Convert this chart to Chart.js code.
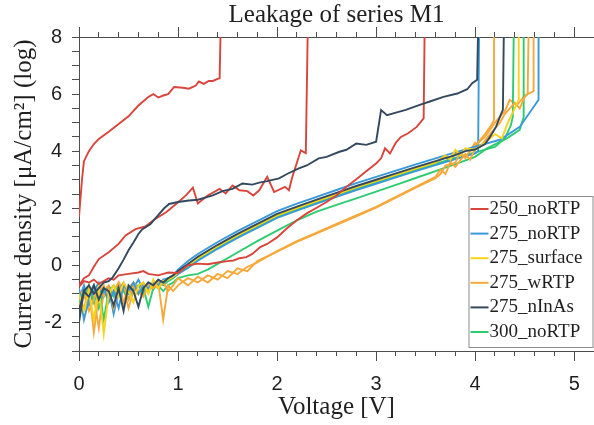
<!DOCTYPE html>
<html>
<head>
<meta charset="utf-8">
<script src="https://cdn.jsdelivr.net/npm/chart.js@4/dist/chart.umd.min.js"></script>
<style>
  html, body { margin: 0; padding: 0; background: #fff; }
</style>
</head>
<body>
<canvas id="leakChart" width="594" height="425"></canvas>
<script>
// series in legend order
const seriesNames = ["250_noRTP", "275_noRTP", "275_surface", "275_wRTP", "275_nInAs", "300_noRTP"];
const seriesColors = ["#d9453b", "#3a9ad9", "#f7d31a", "#f6a93b", "#34495e", "#2ecc71"];

// low-voltage grid shared by the noisy devices
const vLow = [0, 0.05, 0.1, 0.15, 0.2, 0.25, 0.3, 0.35, 0.4, 0.45, 0.5, 0.55, 0.6, 0.65, 0.7, 0.75, 0.8, 0.85, 0.9, 0.95];

// 250_noRTP (three devices)
const red250a = [[0, 1.7], [0.03, 3.0], [0.05, 3.65], [0.1, 4.0], [0.15, 4.25], [0.2, 4.43], [0.3, 4.68], [0.4, 4.95], [0.5, 5.22], [0.6, 5.6], [0.7, 5.9], [0.75, 6.0], [0.8, 5.88], [0.85, 5.95], [0.9, 6.0], [0.96, 6.25], [1.05, 6.22], [1.11, 6.19], [1.18, 6.3], [1.21, 6.44], [1.26, 6.36], [1.31, 6.46], [1.35, 6.46], [1.4, 6.53], [1.42, 6.55], [1.43, 8.3]];
const red250b = [[0, -0.7], [0.05, -0.45], [0.1, -0.35], [0.15, -0.05], [0.2, 0.22], [0.3, 0.46], [0.4, 0.75], [0.47, 1.05], [0.57, 1.27], [0.67, 1.36], [0.77, 1.63], [0.88, 1.86], [0.98, 2.15], [1.08, 2.45], [1.15, 2.72], [1.2, 2.17], [1.3, 2.45], [1.42, 2.68], [1.48, 2.52], [1.55, 2.8], [1.62, 2.63], [1.7, 2.6], [1.76, 2.45], [1.82, 2.63], [1.9, 3.1], [1.97, 2.57], [2.08, 2.75], [2.12, 2.63], [2.15, 3.05], [2.24, 4.03], [2.29, 3.93], [2.31, 8.3]];
const red250c = [[0, -0.75], [0.05, -0.55], [0.1, -0.6], [0.15, -0.5], [0.2, -0.65], [0.25, -0.55], [0.3, -0.45], [0.35, -0.5], [0.4, -0.35], [0.5, -0.3], [0.6, -0.25], [0.65, -0.2], [0.7, -0.3], [0.8, -0.35], [0.9, -0.25], [1.0, -0.27], [1.1, 0.0], [1.2, 0.06], [1.3, 0.04], [1.4, 0.1], [1.5, 0.15], [1.56, 0.17], [1.62, 0.25], [1.69, 0.29], [1.75, 0.4], [1.83, 0.64], [1.9, 0.75], [2.0, 0.98], [2.1, 1.3], [2.2, 1.58], [2.3, 1.82], [2.4, 2.02], [2.5, 2.22], [2.6, 2.45], [2.7, 2.75], [2.8, 3.02], [2.9, 3.3], [3.0, 3.57], [3.05, 3.75], [3.09, 4.1], [3.14, 3.92], [3.2, 4.3], [3.25, 4.5], [3.32, 4.62], [3.41, 4.85], [3.48, 5.15], [3.49, 8.3]];

// 275_nInAs
const darkA = [[0, -1.6], [0.05, -0.9], [0.1, -0.7], [0.15, -1.0], [0.2, -0.8], [0.25, -0.6], [0.3, -0.55], [0.34, -0.42], [0.4, -0.1], [0.45, 0.2], [0.5, 0.53], [0.55, 0.8], [0.6, 1.1], [0.64, 1.27], [0.72, 1.44], [0.81, 1.8], [0.86, 2.0], [0.91, 2.15], [1.0, 2.22], [1.11, 2.27], [1.2, 2.3], [1.35, 2.45], [1.45, 2.6], [1.55, 2.68], [1.65, 2.87], [1.75, 2.83], [1.82, 2.9], [1.9, 2.95], [2.02, 3.05], [2.1, 3.2], [2.22, 3.4], [2.3, 3.5], [2.42, 3.75], [2.5, 3.8], [2.63, 3.98], [2.7, 4.05], [2.8, 4.27], [2.9, 4.22], [3.0, 4.33], [3.05, 5.44], [3.11, 5.26], [3.2, 5.35], [3.3, 5.45], [3.44, 5.62], [3.55, 5.75], [3.68, 5.9], [3.82, 6.02], [3.92, 6.17], [3.97, 6.38], [4.02, 6.5], [4.03, 8.3]];
const darkBLow = [-2.0, -0.9, -1.1, -0.7, -1.2, -0.8, -0.9, -1.4, -0.8, -1.6, -0.7, -0.9, -1.45, -0.8, -0.6, -0.7, -0.5, -0.6, -0.45, -0.35];
const darkBHigh = [[1.0, -0.2], [1.1, 0.05], [1.2, 0.3], [1.4, 0.72], [1.6, 1.1], [1.8, 1.45], [2.0, 1.8], [2.2, 2.06], [2.4, 2.3], [2.6, 2.54], [2.8, 2.78], [3.0, 3.0], [3.2, 3.22], [3.4, 3.44], [3.6, 3.65], [3.8, 3.86], [3.9, 4.0], [4.0, 4.06], [4.1, 4.25], [4.15, 4.5], [4.21, 4.85], [4.25, 5.2], [4.28, 5.45], [4.29, 8.3]];

// 275_noRTP
const blueALow = [-0.8, -1.9, -1.2, -0.7, -1.0, -0.8, -1.3, -0.9, -1.5, -0.7, -0.9, -0.6, -1.0, -0.7, -0.8, -0.6, -0.7, -0.5, -0.45, -0.35];
const blueAHigh = [[1.0, -0.15], [1.1, 0.15], [1.2, 0.4], [1.4, 0.82], [1.6, 1.2], [1.8, 1.55], [2.0, 1.9], [2.2, 2.16], [2.4, 2.4], [2.6, 2.64], [2.8, 2.88], [3.0, 3.1], [3.2, 3.32], [3.4, 3.54], [3.6, 3.75], [3.8, 3.96], [4.0, 4.16], [4.25, 4.4], [4.45, 4.85], [4.59, 5.55], [4.64, 5.8], [4.64, 8.3]];
const blueBLow = [-1.2, -0.7, -1.4, -0.9, -0.6, -1.1, -0.8, -1.7, -0.9, -0.6, -1.0, -0.8, -0.5, -0.9, -0.6, -0.7, -0.5, -0.6, -0.45, -0.4];
const blueBHigh = [[1.0, -0.3], [1.1, -0.09], [1.2, 0.16], [1.4, 0.58], [1.6, 0.96], [1.8, 1.31], [2.0, 1.66], [2.2, 1.92], [2.4, 2.16], [2.6, 2.4], [2.8, 2.64], [3.0, 2.86], [3.2, 3.08], [3.4, 3.3], [3.6, 3.51], [3.8, 3.72], [4.0, 3.92], [4.03, 4.0], [4.04, 8.3]];

// 275_surface
const yellowLow = [-1.0, -1.6, -0.9, -1.9, -0.8, -2.4, -1.0, -0.7, -1.1, -0.6, -0.9, -1.3, -0.7, -0.6, -1.0, -0.5, -0.8, -0.55, -0.5, -0.4];
const yellowHigh = [[1.0, -0.25], [1.1, 0.0], [1.2, 0.25], [1.4, 0.67], [1.6, 1.05], [1.8, 1.4], [2.0, 1.75], [2.2, 2.01], [2.4, 2.25], [2.6, 2.49], [2.8, 2.73], [3.0, 2.95], [3.2, 3.17], [3.4, 3.39], [3.6, 3.6], [3.7, 3.85], [3.75, 3.7], [3.8, 4.05], [3.85, 3.85], [3.9, 4.1], [4.0, 4.05], [4.1, 4.3], [4.2, 4.6], [4.27, 4.45], [4.33, 5.0], [4.4, 5.5], [4.44, 5.8], [4.44, 8.3]];

// 275_wRTP
const orangeALow = [-1.1, -1.5, -0.8, -2.35, -1.0, -0.7, -1.2, -0.9, -0.6, -1.3, -0.8, -0.6, -0.9, -1.1, -0.7, -0.8, -0.6, -1.9, -0.7, -0.9];
const orangeAHigh = [[1.0, -0.7], [1.1, -0.45], [1.2, -0.6], [1.3, -0.35], [1.4, -0.5], [1.5, -0.2], [1.6, -0.3], [1.7, -0.05], [1.8, 0.1], [2.0, 0.5], [2.2, 0.85], [2.4, 1.15], [2.6, 1.45], [2.8, 1.75], [3.0, 2.05], [3.2, 2.4], [3.4, 2.75], [3.6, 3.1], [3.65, 3.35], [3.7, 3.2], [3.75, 3.6], [3.8, 3.45], [3.9, 3.9], [3.95, 3.7], [4.0, 4.1], [4.05, 4.4], [4.1, 4.6], [4.17, 4.95], [4.19, 5.1], [4.19, 8.3]];
const orangeBLow = [-0.9, -1.0, -1.6, -1.2, -0.7, -1.1, -0.8, -1.5, -0.9, -0.7, -1.2, -0.7, -1.0, -0.6, -0.9, -0.7, -0.8, -0.6, -0.9, -0.7];
const orangeBHigh = [[1.0, -0.45], [1.1, -0.7], [1.2, -0.4], [1.3, -0.6], [1.4, -0.3], [1.5, -0.45], [1.6, -0.1], [1.7, -0.2], [1.8, 0.15], [2.0, 0.48], [2.2, 0.82], [2.4, 1.12], [2.6, 1.42], [2.8, 1.72], [3.0, 2.02], [3.2, 2.37], [3.4, 2.72], [3.6, 3.05], [3.65, 3.2], [3.7, 3.5], [3.8, 3.6], [3.85, 3.95], [3.9, 3.75], [4.0, 4.3], [4.05, 4.15], [4.15, 4.6], [4.25, 5.0], [4.3, 5.3], [4.4, 5.7], [4.45, 5.5], [4.5, 5.9], [4.53, 6.0], [4.54, 8.3]];
const orangeCLow = [-1.4, -0.8, -1.0, -1.1, -2.2, -0.9, -0.7, -1.0, -0.6, -0.8, -1.5, -0.9, -0.7, -0.8, -0.6, -0.7, -0.55, -0.6, -0.5, -0.4];
const orangeCHigh = [[1.0, -0.25], [1.1, -0.02], [1.2, 0.23], [1.4, 0.65], [1.6, 1.03], [1.8, 1.38], [2.0, 1.73], [2.2, 1.99], [2.4, 2.23], [2.6, 2.47], [2.8, 2.71], [3.0, 2.93], [3.2, 3.15], [3.4, 3.37], [3.6, 3.58], [3.7, 3.8], [3.75, 3.6], [3.8, 3.95], [3.9, 3.8], [4.0, 4.2], [4.1, 4.5], [4.2, 5.0], [4.3, 5.4], [4.35, 5.8], [4.42, 5.6], [4.5, 5.95], [4.56, 6.05], [4.59, 6.1], [4.59, 8.3]];

// 300_noRTP
const greenALow = [-0.9, -1.1, -0.7, -1.3, -0.8, -1.9, -0.9, -0.7, -1.0, -0.8, -0.9, -0.7, -1.0, -0.8, -1.45, -0.8, -0.7, -0.9, -0.7, -0.6];
const greenAHigh = [[1.0, -0.45], [1.1, -0.35], [1.2, -0.3], [1.3, -0.15], [1.4, 0.05], [1.6, 0.45], [1.8, 0.85], [2.0, 1.22], [2.2, 1.58], [2.4, 1.88], [2.6, 2.12], [2.8, 2.35], [3.0, 2.58], [3.2, 2.82], [3.4, 3.06], [3.6, 3.3], [3.8, 3.55], [4.0, 3.8], [4.12, 4.1], [4.32, 4.45], [4.45, 4.75], [4.49, 5.2], [4.49, 8.3]];
const greenBLow = [-1.3, -0.8, -1.0, -0.7, -1.5, -0.9, -0.8, -1.1, -0.7, -0.9, -1.2, -0.8, -0.7, -1.0, -0.7, -0.85, -0.6, -0.7, -0.55, -0.45];
const greenBHigh = [[1.0, -0.3], [1.1, -0.05], [1.2, 0.2], [1.4, 0.62], [1.6, 1.0], [1.8, 1.35], [2.0, 1.7], [2.2, 1.96], [2.4, 2.2], [2.6, 2.44], [2.8, 2.68], [3.0, 2.9], [3.2, 3.12], [3.4, 3.34], [3.6, 3.55], [3.8, 3.76], [4.0, 3.96], [4.2, 4.15], [4.3, 4.45], [4.36, 4.9], [4.38, 5.2], [4.39, 8.3]];

const axisColor = "#4d4d4d";
const textColor = "#1f1f1f";

function joinCurve(low, high) {
    return vLow.map((v, i) => [v, low[i]]).concat(high);
}

// first entry ends up on top
const curves = [
    { series: 4, data: darkA },
    { series: 0, data: red250a },
    { series: 0, data: red250b },
    { series: 0, data: red250c },
    { series: 4, data: joinCurve(darkBLow, darkBHigh) },
    { series: 2, data: joinCurve(yellowLow, yellowHigh) },
    { series: 1, data: joinCurve(blueALow, blueAHigh) },
    { series: 3, data: joinCurve(orangeALow, orangeAHigh) },
    { series: 3, data: joinCurve(orangeBLow, orangeBHigh) },
    { series: 5, data: joinCurve(greenALow, greenAHigh) },
    { series: 1, data: joinCurve(blueBLow, blueBHigh) },
    { series: 5, data: joinCurve(greenBLow, greenBHigh) },
    { series: 3, data: joinCurve(orangeCLow, orangeCHigh) },
];

const datasets = curves.map(c => ({
    label: seriesNames[c.series],
    data: c.data,
    borderColor: seriesColors[c.series],
    borderWidth: 1.9,
    pointRadius: 0,
    fill: false,
    tension: 0,
    xAxisID: "x",
    yAxisID: "y",
}));

// legend box drawn inside the plot, one line per series
const legendBox = {
    id: "legendBox",
    afterDraw(chart) {
        const { ctx, chartArea } = chart;
        const w = 124, h = 151, rowH = 24.6;
        const left = chartArea.right - w - 1.5;
        const top = chartArea.bottom - h - 4;
        ctx.save();
        ctx.fillStyle = "#fff";
        ctx.fillRect(left, top, w, h);
        ctx.strokeStyle = "#8c8c8c";
        ctx.lineWidth = 1;
        ctx.strokeRect(left + 0.5, top + 0.5, w, h);
        ctx.font = '19px "Liberation Serif"';
        ctx.textBaseline = "middle";
        seriesNames.forEach((name, i) => {
            const y = top + 13 + i * rowH;
            ctx.strokeStyle = seriesColors[i];
            ctx.lineWidth = 2;
            ctx.beginPath();
            ctx.moveTo(left + 2, y);
            ctx.lineTo(left + 20, y);
            ctx.stroke();
            ctx.fillStyle = textColor;
            ctx.fillText(name, left + 21, y);
        });
        ctx.restore();
    },
};

const tickFont = { family: "'Liberation Sans', Arial, sans-serif", size: 20 };
const titleFont = { family: "'Liberation Serif', 'Times New Roman', serif", size: 25, weight: "normal" };

function hAxis(position, step, tickLength, weight, height, extra) {
    return Object.assign({
        type: "linear",
        axis: "x",
        position: position,
        min: 0,
        max: 5.2,
        weight: weight,
        ticks: { stepSize: step, display: false, autoSkip: false, includeBounds: false },
        grid: { drawOnChartArea: false, color: axisColor, tickLength: tickLength },
        border: { display: false },
        afterFit: s => { s.height = height; },
    }, extra);
}

new Chart(document.getElementById("leakChart"), {
    type: "line",
    data: { datasets },
    options: {
        responsive: false,
        animation: false,
        events: [],
        layout: { padding: 0 },
        plugins: {
            legend: { display: false },
            tooltip: { enabled: false },
            title: {
                display: true,
                text: "Leakage of series M1",
                fullSize: false,
                color: textColor,
                font: titleFont,
                padding: { top: 0, bottom: 0 },
            },
        },
        scales: {
            x: hAxis("bottom", 1, 10, 1, 74, {
                ticks: {
                    stepSize: 1, autoSkip: false, includeBounds: false, maxRotation: 0,
                    padding: 11, color: textColor, font: tickFont,
                },
                border: { display: true, color: axisColor, width: 1 },
                title: {
                    display: true, text: "Voltage [V]", color: textColor, font: titleFont,
                    padding: { top: 0, bottom: 3 },
                },
            }),
            xMinor: hAxis("bottom", 0.2, 5, 0, 0, {}),
            xTop: hAxis("top", 1, 10, 1, 7, { border: { display: true, color: axisColor, width: 1 } }),
            xTopMinor: hAxis("top", 0.2, 5, 0, 0, {}),
            y: {
                type: "linear",
                position: "left",
                min: -3,
                max: 8,
                ticks: {
                    stepSize: 0.5,
                    autoSkip: false,
                    padding: 10,
                    color: textColor,
                    font: tickFont,
                    callback: v => (v % 2 === 0 ? v : ""),
                },
                grid: { drawOnChartArea: false, color: axisColor, tickLength: 7 },
                border: { display: true, color: axisColor, width: 1 },
                title: {
                    display: true, text: "Current density [μA/cm²] (log)", color: textColor, font: titleFont,
                    padding: { top: 9, bottom: 0 },
                },
                afterFit: s => { s.width = 79; },
            },
        },
    },
    plugins: [legendBox],
});
</script>
</body>
</html>
